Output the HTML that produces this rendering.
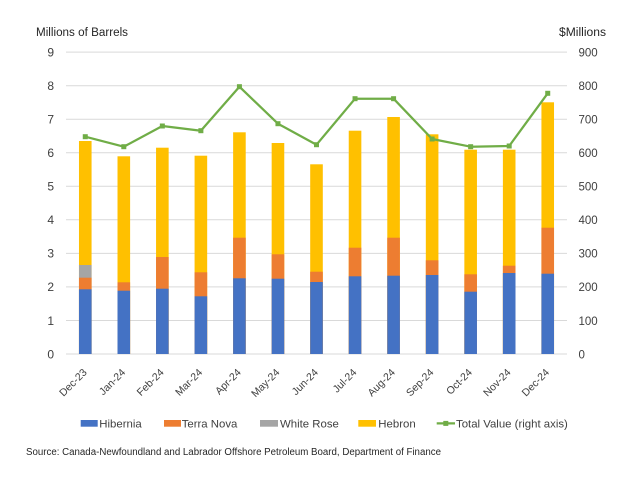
<!DOCTYPE html>
<html>
<head>
<meta charset="utf-8">
<style>
html,body{margin:0;padding:0;background:#fff;}
svg{display:block;}
text{font-family:"Liberation Sans",sans-serif;}
</style>
</head>
<body>
<svg width="640" height="480" viewBox="0 0 640 480" xmlns="http://www.w3.org/2000/svg">
<rect width="640" height="480" fill="#fff"/>
<!-- gridlines -->
<g stroke="#D9D9D9" stroke-width="1">
<line x1="66" x2="567" y1="52.1" y2="52.1"/>
<line x1="66" x2="567" y1="85.7" y2="85.7"/>
<line x1="66" x2="567" y1="119.2" y2="119.2"/>
<line x1="66" x2="567" y1="152.8" y2="152.8"/>
<line x1="66" x2="567" y1="186.3" y2="186.3"/>
<line x1="66" x2="567" y1="219.8" y2="219.8"/>
<line x1="66" x2="567" y1="253.4" y2="253.4"/>
<line x1="66" x2="567" y1="286.9" y2="286.9"/>
<line x1="66" x2="567" y1="320.5" y2="320.5"/>
<line x1="66" x2="567" y1="354" y2="354"/>
</g>
<!-- Hebron -->
<g fill="#FFC000">
<rect x="78.97" y="141" width="12.6" height="213"/>
<rect x="117.51" y="156.3" width="12.6" height="197.7"/>
<rect x="156.05" y="147.7" width="12.6" height="206.3"/>
<rect x="194.58" y="155.7" width="12.6" height="198.3"/>
<rect x="233.12" y="132.3" width="12.6" height="221.7"/>
<rect x="271.66" y="143" width="12.6" height="211"/>
<rect x="310.2" y="164.3" width="12.6" height="189.7"/>
<rect x="348.74" y="130.7" width="12.6" height="223.3"/>
<rect x="387.28" y="117" width="12.6" height="237"/>
<rect x="425.82" y="134.3" width="12.6" height="219.7"/>
<rect x="464.35" y="149.7" width="12.6" height="204.3"/>
<rect x="502.89" y="149.7" width="12.6" height="204.3"/>
<rect x="541.43" y="102.3" width="12.6" height="251.7"/>
</g>
<!-- White Rose -->
<rect x="78.97" y="265" width="12.6" height="89" fill="#A5A5A5"/>
<!-- Terra Nova -->
<g fill="#ED7D31">
<rect x="78.97" y="277.7" width="12.6" height="76.3"/>
<rect x="117.51" y="282.3" width="12.6" height="71.7"/>
<rect x="156.05" y="257" width="12.6" height="97"/>
<rect x="194.58" y="272.3" width="12.6" height="81.7"/>
<rect x="233.12" y="237.7" width="12.6" height="116.3"/>
<rect x="271.66" y="254.3" width="12.6" height="99.7"/>
<rect x="310.2" y="271.7" width="12.6" height="82.3"/>
<rect x="348.74" y="247.7" width="12.6" height="106.3"/>
<rect x="387.28" y="237.7" width="12.6" height="116.3"/>
<rect x="425.82" y="260.3" width="12.6" height="93.7"/>
<rect x="464.35" y="274.3" width="12.6" height="79.7"/>
<rect x="502.89" y="265.7" width="12.6" height="88.3"/>
<rect x="541.43" y="227.7" width="12.6" height="126.3"/>
</g>
<!-- Hibernia -->
<g fill="#4472C4">
<rect x="78.97" y="289.3" width="12.6" height="64.7"/>
<rect x="117.51" y="290.7" width="12.6" height="63.3"/>
<rect x="156.05" y="288.7" width="12.6" height="65.3"/>
<rect x="194.58" y="296.3" width="12.6" height="57.7"/>
<rect x="233.12" y="278.3" width="12.6" height="75.7"/>
<rect x="271.66" y="278.7" width="12.6" height="75.3"/>
<rect x="310.2" y="282" width="12.6" height="72"/>
<rect x="348.74" y="276.3" width="12.6" height="77.7"/>
<rect x="387.28" y="275.7" width="12.6" height="78.3"/>
<rect x="425.82" y="275" width="12.6" height="79"/>
<rect x="464.35" y="291.7" width="12.6" height="62.3"/>
<rect x="502.89" y="273" width="12.6" height="81"/>
<rect x="541.43" y="273.7" width="12.6" height="80.3"/>
</g>
<!-- Total value line -->
<polyline fill="none" stroke="#70AD47" stroke-width="2.25" stroke-linejoin="round"
points="85.27,136.7 123.81,146.7 162.35,126 200.88,130.7 239.42,86.7 277.96,123.7 316.5,144.7 355.04,98.7 393.58,98.7 432.12,139 470.65,146.7 509.19,146 547.73,93.3"/>
<g fill="#70AD47">
<rect x="82.77" y="134.2" width="5" height="5"/>
<rect x="121.31" y="144.2" width="5" height="5"/>
<rect x="159.85" y="123.5" width="5" height="5"/>
<rect x="198.38" y="128.2" width="5" height="5"/>
<rect x="236.92" y="84.2" width="5" height="5"/>
<rect x="275.46" y="121.2" width="5" height="5"/>
<rect x="314" y="142.2" width="5" height="5"/>
<rect x="352.54" y="96.2" width="5" height="5"/>
<rect x="391.08" y="96.2" width="5" height="5"/>
<rect x="429.62" y="136.5" width="5" height="5"/>
<rect x="468.15" y="144.2" width="5" height="5"/>
<rect x="506.69" y="143.5" width="5" height="5"/>
<rect x="545.23" y="90.8" width="5" height="5"/>
</g>
<!-- axis titles -->
<text x="36" y="36" font-size="11.5" fill="#262626" textLength="92" lengthAdjust="spacingAndGlyphs">Millions of Barrels</text>
<text x="559" y="36" font-size="11.5" fill="#262626" textLength="47" lengthAdjust="spacingAndGlyphs">$Millions</text>
<!-- left ticks -->
<g font-size="12" fill="#404040" text-anchor="end">
<text x="54" y="56.4">9</text>
<text x="54" y="90">8</text>
<text x="54" y="123.5">7</text>
<text x="54" y="157.1">6</text>
<text x="54" y="190.6">5</text>
<text x="54" y="224.1">4</text>
<text x="54" y="257.7">3</text>
<text x="54" y="291.2">2</text>
<text x="54" y="324.8">1</text>
<text x="54" y="358.3">0</text>
</g>
<!-- right ticks -->
<g font-size="11.5" fill="#404040" text-anchor="start">
<text x="578.5" y="56.4">900</text>
<text x="578.5" y="90">800</text>
<text x="578.5" y="123.5">700</text>
<text x="578.5" y="157.1">600</text>
<text x="578.5" y="190.6">500</text>
<text x="578.5" y="224.1">400</text>
<text x="578.5" y="257.7">300</text>
<text x="578.5" y="291.2">200</text>
<text x="578.5" y="324.8">100</text>
<text x="578.5" y="358.3">0</text>
</g>
<!-- x labels -->
<g font-size="10.5" fill="#404040" text-anchor="end">
<text transform="translate(87.5,373) rotate(-45)">Dec-23</text>
<text transform="translate(126,373) rotate(-45)">Jan-24</text>
<text transform="translate(164.5,373) rotate(-45)">Feb-24</text>
<text transform="translate(203,373) rotate(-45)">Mar-24</text>
<text transform="translate(241.6,373) rotate(-45)">Apr-24</text>
<text transform="translate(280.2,373) rotate(-45)">May-24</text>
<text transform="translate(318.7,373) rotate(-45)">Jun-24</text>
<text transform="translate(357.2,373) rotate(-45)">Jul-24</text>
<text transform="translate(395.8,373) rotate(-45)">Aug-24</text>
<text transform="translate(434.3,373) rotate(-45)">Sep-24</text>
<text transform="translate(472.8,373) rotate(-45)">Oct-24</text>
<text transform="translate(511.4,373) rotate(-45)">Nov-24</text>
<text transform="translate(549.9,373) rotate(-45)">Dec-24</text>
</g>
<!-- legend -->
<g font-size="11.4" fill="#404040">
<rect x="80.7" y="420" width="17" height="6.7" fill="#4472C4"/>
<text x="99.3" y="427.5">Hibernia</text>
<rect x="164" y="420" width="17" height="6.7" fill="#ED7D31"/>
<text x="181.7" y="427.5">Terra Nova</text>
<rect x="260" y="420" width="18" height="6.7" fill="#A5A5A5"/>
<text x="280" y="427.5">White Rose</text>
<rect x="358.3" y="420" width="17.7" height="6.7" fill="#FFC000"/>
<text x="378.3" y="427.5">Hebron</text>
<line x1="436.7" x2="455" y1="423.4" y2="423.4" stroke="#70AD47" stroke-width="2.25"/>
<rect x="443.3" y="420.9" width="5" height="5" fill="#70AD47"/>
<text x="456" y="427.5">Total Value (right axis)</text>
</g>
<!-- source -->
<text x="26" y="455" font-size="10" fill="#262626" textLength="415" lengthAdjust="spacingAndGlyphs">Source: Canada-Newfoundland and Labrador Offshore Petroleum Board, Department of Finance</text>
</svg>
</body>
</html>
